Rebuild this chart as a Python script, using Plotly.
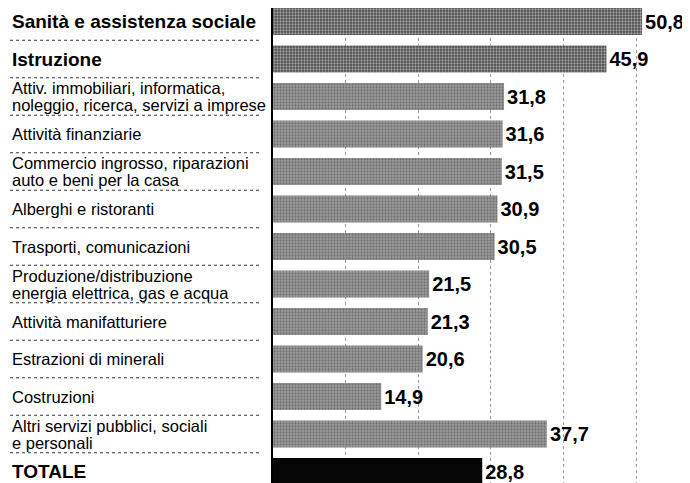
import plotly.graph_objects as go

# Settori e valori (%)
labels = [
    ["Sanità e assistenza sociale"],
    ["Istruzione"],
    ["Attiv. immobiliari, informatica,", "noleggio, ricerca, servizi a imprese"],
    ["Attività finanziarie"],
    ["Commercio ingrosso, riparazioni", "auto e beni per la casa"],
    ["Alberghi e ristoranti"],
    ["Trasporti, comunicazioni"],
    ["Produzione/distribuzione", "energia elettrica, gas e acqua"],
    ["Attività manifatturiere"],
    ["Estrazioni di minerali"],
    ["Costruzioni"],
    ["Altri servizi pubblici, sociali", "e personali"],
    ["TOTALE"],
]
values = [50.8, 45.9, 31.8, 31.6, 31.5, 30.9, 30.5, 21.5, 21.3, 20.6, 14.9, 37.7, 28.8]
bold_rows = [0, 1, 12]
grid_vals = [10, 20, 30, 40, 50]

FONT = "Liberation Sans, Arial, sans-serif"

rows = list(range(len(values)))
bg, fg, shape = [], [], []
for i in rows:
    if i == 12:
        bg.append("#050505"); fg.append("#050505"); shape.append("")
    elif i in (0, 1):
        bg.append("#4a4a4a"); fg.append("#111111"); shape.append(".")
    else:
        bg.append("#9e9e9e"); fg.append("#3a3a3a"); shape.append(".")

fig = go.Figure(go.Bar(
    x=values, y=rows, orientation="h",
    marker=dict(color=bg, line=dict(width=0),
                pattern=dict(shape=shape, fgcolor=fg, bgcolor=bg,
                             size=3, solidity=0.45, fillmode="overlay")),
    width=0.72,
    text=values, texttemplate="%{x:.1f}", textposition="outside",
    textfont=dict(family=FONT, size=20, color="black", weight="bold"),
    cliponaxis=False,
))

# etichette a sinistra, una annotazione per riga di testo
for i, lines in enumerate(labels):
    n = len(lines)
    for k, line in enumerate(lines):
        fig.add_annotation(
            x=2 / 690, xref="paper", xanchor="left",
            y=i, yref="y", yanchor="middle",
            yshift=((n - 1) / 2 - k) * 17,
            text=line, showarrow=False,
            font=dict(family=FONT, size=19 if i in bold_rows else 16.5, color="black",
                      weight="bold" if i in bold_rows else "normal"),
        )

# separatori tratteggiati tra le righe
for i in rows[:-1]:
    fig.add_shape(type="line", xref="paper", yref="y",
                  x0=2 / 690, x1=254 / 690, y0=i + 0.5, y1=i + 0.5,
                  line=dict(color="#333", width=1, dash="dot"))

fig.update_layout(
    width=690, height=483,
    margin=dict(l=0, r=0, t=0, b=0),
    plot_bgcolor="white", paper_bgcolor="white",
    separators=",.",
    showlegend=False,
    xaxis=dict(domain=[265 / 690, 1], range=[0, 58.5], tickvals=grid_vals,
               showticklabels=False, showgrid=True, gridcolor="#999",
               griddash="dot", gridwidth=1, zeroline=False, ticks=""),
    yaxis=dict(range=[12.52, -0.36], showticklabels=False, showgrid=False,
               zeroline=False, showline=True, linecolor="black", linewidth=1.5,
               ticks=""),
)

fig.write_html("out.html")
